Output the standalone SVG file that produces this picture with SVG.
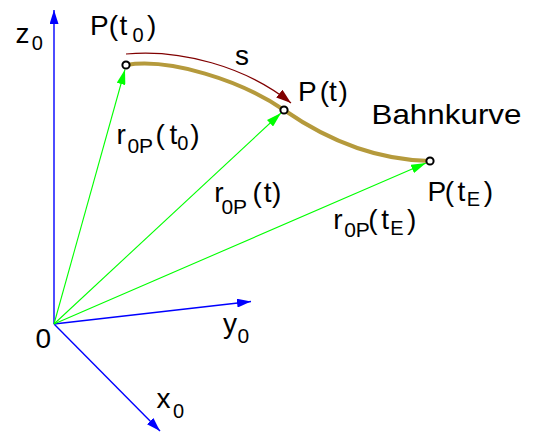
<svg xmlns="http://www.w3.org/2000/svg" width="534" height="432" viewBox="0 0 534 432">
<style>
  text { font-family: "Liberation Sans", Arial, sans-serif; font-size: 28px; fill: #000; }
  .sub { font-size: 20px; }
  .sub2 { font-size: 21px; }
  .axis { stroke: #0000ff; stroke-width: 1.4; fill: none; }
  .vec { stroke: #00ff00; stroke-width: 1.1; fill: none; }
  .arc { stroke: #800000; stroke-width: 1.2; fill: none; }
  .curve { stroke: #b59a3c; stroke-width: 4; fill: none; stroke-linecap: round; }
  .pt { fill: #fff; stroke: #000; stroke-width: 2; }
</style>
<defs>
  <marker id="ah-blue" viewBox="0 0 14 9" refX="14" refY="4.5" markerWidth="14" markerHeight="9" markerUnits="userSpaceOnUse" orient="auto">
    <path d="M0,0 L14,4.5 L0,9 Z" fill="#0000ff"/>
  </marker>
  <marker id="ah-green" viewBox="0 0 15 9" refX="15" refY="4.5" markerWidth="15" markerHeight="9" markerUnits="userSpaceOnUse" orient="auto">
    <path d="M0,0 L15,4.5 L0,9 Z" fill="#00ff00"/>
  </marker>
  <marker id="ah-red" viewBox="0 0 15 10" refX="15" refY="5" markerWidth="15" markerHeight="10" markerUnits="userSpaceOnUse" orient="auto">
    <path d="M0,0 L15,5 L0,10 Z" fill="#800000"/>
  </marker>
</defs>

<g id="connectors">
  <line id="axis-z" class="axis" x1="54" y1="324" x2="54" y2="10" marker-end="url(#ah-blue)"/>
  <line id="axis-y" class="axis" x1="54" y1="324" x2="251" y2="301.5" marker-end="url(#ah-blue)"/>
  <line id="axis-x" class="axis" x1="54" y1="324" x2="160" y2="431" marker-end="url(#ah-blue)"/>
  <line id="vec-t0" class="vec" x1="54" y1="324" x2="125" y2="69.5" marker-end="url(#ah-green)"/>
  <line id="vec-t" class="vec" x1="54" y1="324" x2="281" y2="113" marker-end="url(#ah-green)"/>
  <line id="vec-tE" class="vec" x1="54" y1="324" x2="426" y2="163" marker-end="url(#ah-green)"/>
  <path id="arc-s" class="arc" d="M126,54 C180,49 245,66 291,103" marker-end="url(#ah-red)"/>
</g>

<g id="bahnkurve">
  <path class="curve" d="M126,65 C170,58 240,80 284,110 C320,135 370,160 430,161"/>
  <text x="371.5" y="124" textLength="150" lengthAdjust="spacingAndGlyphs">Bahnkurve</text>
</g>

<g id="origin">
  <text x="35.4" y="347.5" font-size="32">0</text>
</g>

<g id="label-z0"><text x="15.5" y="43.3">z<tspan class="sub" dx="2.3" y="50">0</tspan></text></g>
<g id="label-y0"><text x="222.9" y="333" font-size="30">y<tspan class="sub2" x="237.4" y="343">0</tspan></text></g>
<g id="label-x0"><text x="156.5" y="408.3" font-size="29">x<tspan class="sub" x="173" y="418.3">0</tspan></text></g>

<g id="point-t0">
  <circle class="pt" cx="126" cy="65" r="3.6"/>
  <text x="90" y="35">P(<tspan dx="1.5">t</tspan><tspan class="sub" dx="5.1" y="42">0</tspan><tspan dx="3.4" y="35">)</tspan></text>
</g>

<g id="point-t">
  <circle class="pt" cx="284" cy="110" r="3.6"/>
  <text x="298" y="101">P<tspan dx="3">(</tspan>t<tspan dx="1.8">)</tspan></text>
</g>

<g id="point-tE">
  <circle class="pt" cx="430" cy="161" r="3.6"/>
  <text x="427.5" y="201">P<tspan dx="-1.5">(</tspan><tspan dx="3.5">t</tspan><tspan class="sub" dx="1.4" y="206">E</tspan><tspan dx="3.6" y="201">)</tspan></text>
</g>

<g id="label-s"><text x="235" y="65">s</text></g>

<g id="label-r-t0"><text x="116.5" y="144">r<tspan class="sub2" dx="1.6" y="153">0P</tspan><tspan dx="2.5" y="144">(</tspan><tspan dx="4.6">t</tspan><tspan class="sub" y="149.5">0</tspan><tspan dx="1.9" y="144">)</tspan></text></g>
<g id="label-r-t"><text x="214.3" y="201.5">r<tspan class="sub2" dx="-2.2" y="214">0P</tspan><tspan dx="5.5" y="201.5">(</tspan><tspan dx="1.9">t</tspan><tspan dx="0.3">)</tspan></text></g>
<g id="label-r-tE"><text x="333.2" y="229">r<tspan class="sub2" dx="1.6" y="236.5">0P</tspan><tspan dx="-1.5" y="229">(</tspan><tspan dx="3.6">t</tspan><tspan class="sub" dx="1.1" y="235">E</tspan><tspan dx="3.5" y="229">)</tspan></text></g>
</svg>
